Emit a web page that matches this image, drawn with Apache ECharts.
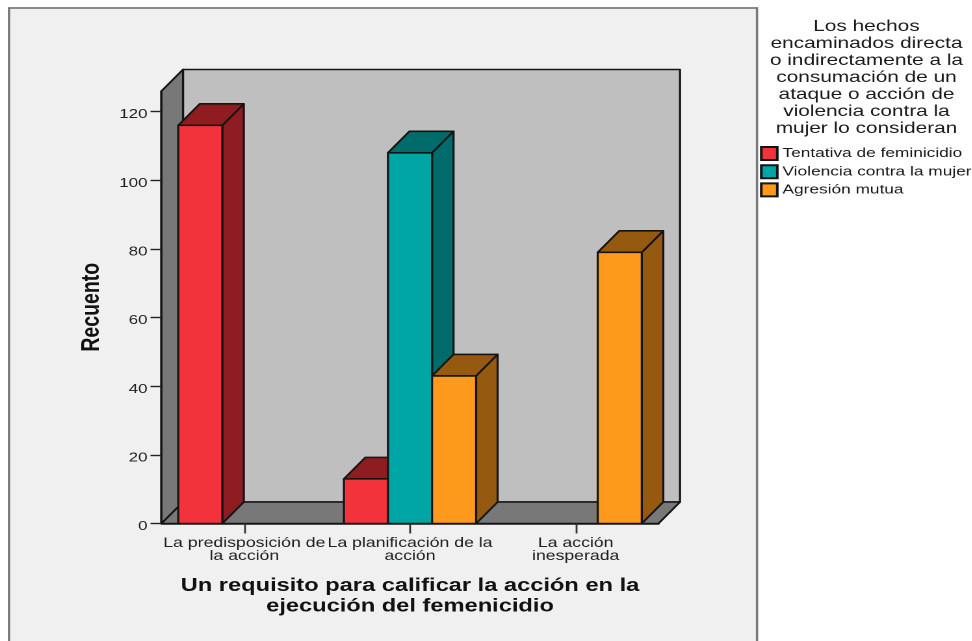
<!DOCTYPE html>
<html><head><meta charset="utf-8">
<style>html,body{margin:0;padding:0;background:#fff;overflow:hidden}
#wrap{width:972px;height:641px;overflow:hidden;position:relative}
#c{position:absolute;left:0;top:0;height:641px;transform-origin:0 0}</style>
<script src="https://cdn.jsdelivr.net/npm/echarts@6/dist/echarts.min.js"></script>
</head><body><div id="wrap"><div id="c"></div></div>
<script>
const categories = ["La predisposición de\nla acción", "La planificación de la\nacción", "La acción\ninesperada"];
const tentativa = [116, 13, null];
const violencia = [null, 108, null];
const agresion = [null, 43, 79];
const yTicks = [0, 20, 40, 60, 80, 100, 120];
const seriesNames = ["Tentativa de feminicidio", "Violencia contra la mujer", "Agresión mutua"];
const faceColors = ["#f3333c", "#00a6a6", "#fd9a1c"];
const shadeColors = ["#8f1c20", "#006b6b", "#955a10"];
const legendTitle = "Los hechos\nencaminados directa\no indirectamente a la\nconsumación de un\nataque o acción de\nviolencia contra la\nmujer lo consideran";
const xName = "Un requisito para calificar la acción en la\nejecución del femenicidio";

const SX = 1.3;                // the original picture is stretched horizontally
const W = 972 / SX, H = 641;
const el = document.getElementById('c');
el.style.width = W + 'px';
el.style.transform = 'scaleX(' + SX + ')';
const chart = echarts.init(el, null, {renderer: 'canvas', devicePixelRatio: 2});
const DX = 21.5 / SX, DY = 21.5, LINE = '#141414', FONT = '"Liberation Sans", Arial, sans-serif';
const px = v => v / SX;

function poly(points, fill) {
  return {type: 'polygon', shape: {points}, style: {fill, stroke: LINE, lineWidth: 1.6, lineJoin: 'round'}};
}
function renderWalls(params) {
  const g = params.coordSys, L = g.x, R = g.x + g.width, T = g.y, B = g.y + g.height;
  return {type: 'group', children: [
    poly([[L + DX, T - DY], [R + DX, T - DY], [R + DX, B - DY], [L + DX, B - DY]], '#bfbfbf'),
    poly([[L, T], [L + DX, T - DY], [L + DX, B - DY], [L, B]], '#787878'),
    poly([[L, B], [L + DX, B - DY], [R + DX, B - DY], [R, B]], '#787878')
  ]};
}
function renderBar(idx) {
  return function (params, api) {
    const cat = api.value(0), val = api.value(1);
    const p0 = api.coord([cat, 0]), p1 = api.coord([cat, val]);
    const band = api.size([1, 0])[0], w = band * 0.266;
    const x0 = p0[0] + (idx - 1) * w - w / 2, x1 = x0 + w, yB = p0[1], yT = p1[1];
    return {type: 'group', children: [
      poly([[x1, yT], [x1 + DX, yT - DY], [x1 + DX, yB - DY], [x1, yB]], shadeColors[idx]),
      poly([[x0, yT], [x0 + DX, yT - DY], [x1 + DX, yT - DY], [x1, yT]], shadeColors[idx]),
      poly([[x0, yT], [x1, yT], [x1, yB], [x0, yB]], faceColors[idx])
    ]};
  };
}
const toData = arr => arr.map((v, i) => [i, v]).filter(d => d[1] !== null);
const barSeries = [tentativa, violencia, agresion].map((arr, i) => ({
  type: 'custom', name: seriesNames[i], data: toData(arr), encode: {x: 0, y: 1}, z: 5,
  itemStyle: {color: faceColors[i], borderColor: LINE, borderWidth: 1.4},
  renderItem: renderBar(i), silent: true, animation: false
}));

chart.setOption({
  animation: false,
  backgroundColor: '#ffffff',
  graphic: {elements: [{type: 'rect', z: -100, silent: true,
    shape: {x: px(9), y: 8, width: px(748), height: 700},
    style: {fill: '#f0f0f0', stroke: '#7a7a7a', lineWidth: 1.8}}]},
  title: {text: legendTitle, left: px(860), top: 13, textAlign: 'center',
    textStyle: {fontFamily: FONT, fontWeight: 'normal', fontSize: 16, lineHeight: 17, color: '#1a1a1a'}},
  legend: {data: seriesNames, orient: 'vertical', left: px(760), top: 146, itemWidth: px(16), itemHeight: 13,
    itemGap: 3.2, padding: 0, icon: 'rect', selectedMode: false,
    textStyle: {fontFamily: FONT, fontSize: 13.3, color: '#1a1a1a', padding: [0, 0, 0, -1]}},
  grid: {left: px(161.5), width: px(497), top: 91, height: 432.5},
  xAxis: {type: 'category', data: categories, boundaryGap: true, z: 3,
    axisLine: {show: true, lineStyle: {color: LINE, width: 1.6}},
    axisTick: {show: true, alignWithLabel: true, length: 10, lineStyle: {color: '#333', width: 1.4}},
    axisLabel: {interval: 0, margin: 13, fontFamily: FONT, fontSize: 13.6, lineHeight: 13, color: '#222', hideOverlap: false},
    name: xName, nameLocation: 'middle', nameGap: 52,
    nameTextStyle: {fontFamily: FONT, fontWeight: 'bold', fontSize: 18.2, lineHeight: 20.5, color: '#111'}},
  yAxis: {type: 'value', min: 0, max: 126, interval: 20, splitLine: {show: false}, z: 3,
    axisLine: {show: true, lineStyle: {color: LINE, width: 1.6}},
    axisTick: {show: true, length: px(11), customValues: yTicks, lineStyle: {color: '#222', width: 1.4}},
    axisLabel: {customValues: yTicks, margin: px(14), fontFamily: FONT, fontSize: 13, color: '#222', verticalAlign: 'top', lineHeight: 6},
    name: 'Recuento', nameLocation: 'middle', nameRotate: 90, nameGap: px(54),
    nameTextStyle: {fontFamily: FONT, fontWeight: 'bold', fontSize: 19.5, color: '#111'}},
  series: [{type: 'custom', name: 'paredes', data: [[0, 0]], encode: {x: 0, y: 1}, z: 1, silent: true,
    renderItem: renderWalls}].concat(barSeries)
});
</script></body></html>
